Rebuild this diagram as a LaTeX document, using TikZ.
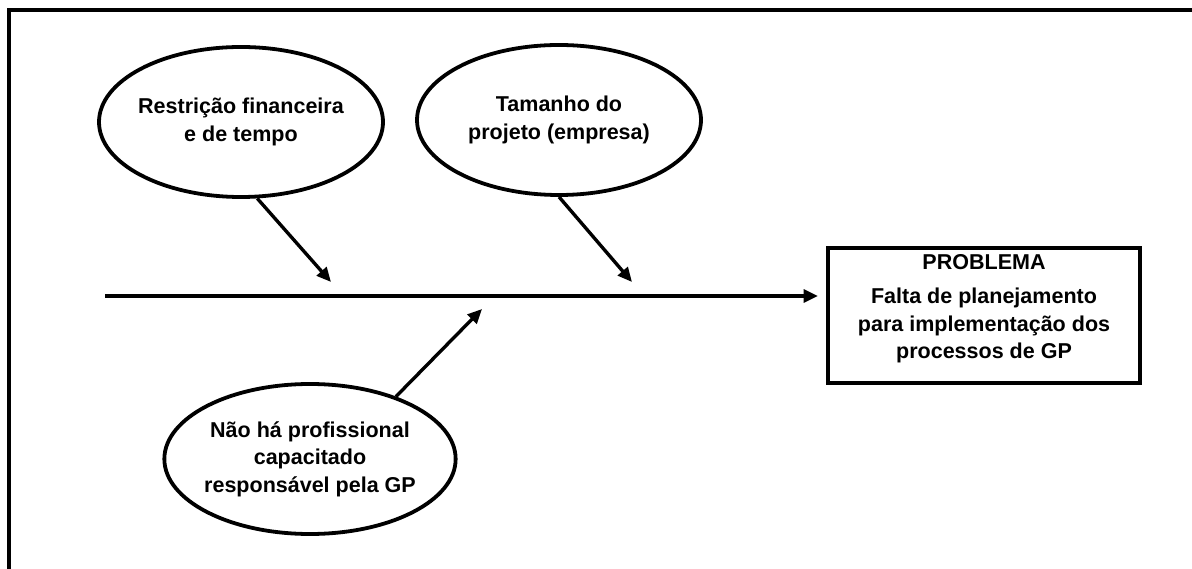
\documentclass[tikz,border=0pt]{standalone}
\usepackage{fontspec}
\setmainfont{Liberation Sans}
\usetikzlibrary{shapes.geometric}
\usetikzlibrary{arrows.meta}

\begin{document}
\begin{tikzpicture}[
    causa/.style={draw, ellipse, line width=2.7pt, inner xsep=-2pt, inner ysep=0pt, minimum width=7.1cm, minimum height=3.75cm, align=center, font=\fontsize{15.3}{19.5}\selectfont\bfseries},
    efeito/.style={draw, rectangle, line width=2.7pt, minimum width=7.8cm, minimum height=3.375cm, align=center, font=\fontsize{15.3}{19.5}\selectfont\bfseries},
    seta/.style={-{Triangle[length=0.36cm,width=0.32cm]}, line width=2.4pt}
  ]
            \useasboundingbox (0,0) rectangle (29.8,14.2);
            % moldura
            \draw[line width=2.7pt] (0.225,-0.5) |- (30.5,13.95);

            \node[causa] (restricao) at (6.025,11.15) {Restrição financeira\\e de tempo};
            \node[causa] (tamanho) at (13.975,11.2) {Tamanho do\\projeto (empresa)};
            \node[causa] (profissional) at (7.75,2.725) {Não há profissional\\capacitado\\responsável pela GP};
            \node[efeito] (problema) at (24.6,6.3125) {PROBLEMA\\[5pt]Falta de planejamento\\para implementação dos\\processos de GP\rule[-0.45cm]{0pt}{0pt}};

            \coordinate (espinha) at (2.625,6.8);
            \coordinate (t1) at (8.275,7.15);
            \coordinate (t2) at (15.8,7.15);
            \coordinate (t3) at (12.05,6.475);

            \draw[seta, line width=2.7pt, shorten >=0.2cm] (espinha) -- (espinha -| problema.west);
            \draw[seta] (restricao.-78) -- (t1);
            \draw[seta] (tamanho.south) -- (t2);
            \draw[seta] (profissional.36) -- (t3);
        \end{tikzpicture}
\end{document}
